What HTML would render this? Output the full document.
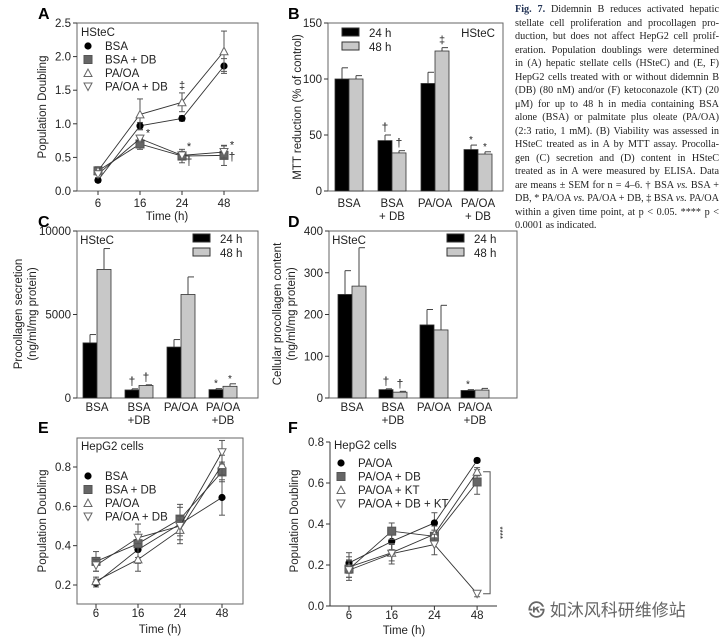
<!DOCTYPE html>
<html><head><meta charset="utf-8">
<style>
html,body{margin:0;padding:0;background:#fff;}
body{width:724px;height:639px;position:relative;overflow:hidden;font-family:"Liberation Sans",sans-serif;}
#cap{position:absolute;left:515px;top:3px;width:204px;font-family:"Liberation Serif",serif;font-size:10.2px;line-height:13.5px;color:#222;}
#cap div{text-align:justify;text-align-last:justify;white-space:nowrap;}
#cap div.last{text-align-last:left;}
#wm{position:absolute;left:528px;top:596px;font-family:"Liberation Sans","Noto Sans CJK SC",sans-serif;font-size:17px;color:#666;}
</style></head>
<body>
<svg id="fig" width="724" height="639" style="position:absolute;left:0;top:0" font-family="Liberation Sans, sans-serif"></svg>
<div id="cap">
<div><b style="color:#235">Fig. 7.</b> Didemnin B reduces activated hepatic</div>
<div>stellate cell proliferation and procollagen pro-</div>
<div>duction, but does not affect HepG2 cell prolif-</div>
<div>eration. Population doublings were determined</div>
<div>in (A) hepatic stellate cells (HSteC) and (E, F)</div>
<div>HepG2 cells treated with or without didemnin B</div>
<div>(DB) (80 nM) and/or (F) ketoconazole (KT) (20</div>
<div>μM) for up to 48 h in media containing BSA</div>
<div>alone (BSA) or palmitate plus oleate (PA/OA)</div>
<div>(2:3 ratio, 1 mM). (B) Viability was assessed in</div>
<div>HSteC treated as in A by MTT assay. Procolla-</div>
<div>gen (C) secretion and (D) content in HSteC</div>
<div>treated as in A were measured by ELISA. Data</div>
<div>are means ± SEM for n = 4–6. † BSA <i>vs.</i> BSA +</div>
<div>DB, * PA/OA <i>vs.</i> PA/OA + DB, ‡ BSA <i>vs.</i> PA/OA</div>
<div>within a given time point, at p &lt; 0.05. **** p &lt;</div>
<div class="last">0.0001 as indicated.</div>
</div>
<div id="wm">㉿ 如沐风科研维修站</div>
<script>
// ---------- data ----------
const timeLabels = ["6","16","24","48"];
const aSeriesNames = ["BSA","BSA + DB","PA/OA","PA/OA + DB"];
const aBSA = [0.16,0.97,1.08,1.86];
const aBSAerr = [0.03,0.05,0.04,0.11];
const aBSADB = [0.30,0.70,0.52,0.53];
const aBSADBerr = [0.06,0.08,0.10,0.15];
const aPAOA = [0.30,1.14,1.32,2.08];
const aPAOAerr = [0.05,0.23,0.14,0.30];
const aPAOADB = [0.25,0.78,0.53,0.58];
const aPAOADBerr = [0.05,0.05,0.06,0.09];
const aYTicks = [0,0.5,1.0,1.5,2.0,2.5];

const barGroups = ["BSA","BSA\n+ DB","PA/OA","PA/OA\n+ DB"];
const bMTT24 = [100,45,96,37];
const bMTT24err = [10,5,10,4];
const bMTT48 = [100,34,125,33];
const bMTT48err = [3,2,3,2];
const bYTicks = [0,50,100,150];

const cSec24 = [3300,480,3050,500];
const cSec24err = [500,70,450,60];
const cSec48 = [7700,750,6200,700];
const cSec48err = [1250,40,1050,150];
const cYTicks = [0,5000,10000];

const dCont24 = [248,20,175,18];
const dCont24err = [57,2,37,2];
const dCont48 = [268,14,163,19];
const dCont48err = [92,2,59,4];
const dYTicks = [0,100,200,300,400];

const eBSA = [0.21,0.38,0.51,0.645];
const eBSAerr = [0.02,0.04,0.10,0.09];
const eBSADB = [0.32,0.41,0.535,0.775];
const eBSADBerr = [0.05,0.10,0.06,0.05];
const ePAOA = [0.22,0.33,0.48,0.81];
const ePAOAerr = [0.02,0.06,0.05,0.05];
const ePAOADB = [0.30,0.44,0.50,0.875];
const ePAOADBerr = [0.03,0.03,0.05,0.06];
const eYTicks = [0.2,0.4,0.6,0.8];

const fSeriesNames = ["PA/OA","PA/OA + DB","PA/OA + KT","PA/OA + DB + KT"];
const fPAOA = [0.21,0.315,0.405,0.71];
const fPAOAerr = [0.05,0.04,0.05,0.01];
const fPAOADB = [0.18,0.365,0.34,0.605];
const fPAOADBerr = [0.04,0.04,0.03,0.06];
const fPAOAKT = [0.19,0.26,0.35,0.655];
const fPAOAKTerr = [0.05,0.04,0.04,0.02];
const fPAOADBKT = [0.175,0.255,0.30,0.06];
const fPAOADBKTerr = [0.05,0.05,0.05,0.015];
const fYTicks = [0,0.2,0.4,0.6,0.8];

// ---------- helpers ----------
const NS="http://www.w3.org/2000/svg";
const svg=document.getElementById('fig');
function el(tag,attrs,parent,txt){const e=document.createElementNS(NS,tag);for(const k in attrs)e.setAttribute(k,attrs[k]);if(txt!==undefined)e.textContent=txt;(parent||svg).appendChild(e);return e;}
function linScale(d0,d1,r0,r1){return v=>r0+(v-d0)*(r1-r0)/(d1-d0);}
function panelLetter(x,y,t){const e=el('text',{x:x,y:y,'font-size':16,'font-weight':'bold'},svg,t);

}
function frame(x0,x1,y0,y1,full,name){const g=el('g',{});


if(full) el('rect',{x:x0,y:y0,width:x1-x0,height:y1-y0,fill:'none',stroke:'#666','stroke-width':1},g);
else{el('line',{x1:x0,y1:y0,x2:x0,y2:y1,stroke:'#333'},g);el('line',{x1:x0,y1:y1,x2:x1,y2:y1,stroke:'#333'},g);}
return g;}
function yAxis(g,x0,ticks,ys,fmt){ticks.forEach(t=>{const y=ys(t);el('line',{x1:x0-4,y1:y,x2:x0,y2:y,stroke:'#333'},g);
const tx=el('text',{x:x0-6,y:y+4,'font-size':11.5,'text-anchor':'end',fill:'#222'},g,fmt(t));

});}
function yTitle(lines,x,cy,name){lines.forEach((l,i)=>{const t=el('text',{x:0,y:0,'font-size':11.5,'text-anchor':'middle',fill:'#222',transform:`translate(${x+i*14},${cy}) rotate(-90)`},svg,l);

});}
function marker(g,type,x,y){
 if(type==0) el('circle',{cx:x,cy:y,r:3.6,fill:'#000'},g);
 else if(type==1) el('rect',{x:x-4,y:y-4,width:8,height:8,fill:'#666',stroke:'#555'},g);
 else if(type==2) el('polygon',{points:`${x},${y-4} ${x-4},${y+3.5} ${x+4},${y+3.5}`,fill:'#fff',stroke:'#666'},g);
 else el('polygon',{points:`${x},${y+4} ${x-4},${y-3.5} ${x+4},${y-3.5}`,fill:'#fff',stroke:'#666'},g);}
function lineChart(name,xs,ys,series,errs,legendNames,legX,legY,title,titleGap){
 series.forEach((s,k)=>{const g=el('g',{});
  
  
  el('polyline',{points:s.map((v,i)=>xs(i)+','+ys(v)).join(' '),fill:'none',stroke:'#333','stroke-width':0.9},g);
  s.forEach((v,i)=>{const x=xs(i),e=errs[k][i];
   el('line',{x1:x,y1:ys(v-e),x2:x,y2:ys(v+e),stroke:'#555'},g);
   el('line',{x1:x-3,y1:ys(v-e),x2:x+3,y2:ys(v-e),stroke:'#555'},g);
   el('line',{x1:x-3,y1:ys(v+e),x2:x+3,y2:ys(v+e),stroke:'#555'},g);});
  s.forEach((v,i)=>{const m=el('g',{},g);
   
   
   marker(m,k,xs(i),ys(v));});});
 const tt=el('text',{x:legX-7,y:legY-titleGap,'font-size':11.5,fill:'#222'},svg,title);
 
 
 legendNames.forEach((n,k)=>{const g=el('g',{});
  
  
  marker(g,k,legX,legY+k*13.5-4);el('text',{x:legX+17,y:legY+k*13.5,'font-size':11.5,fill:'#222'},g,n);});}
function xCatLabels(g,xs,labels,y){labels.forEach((l,i)=>{l.split('\n').forEach((p,j)=>{const t=el('text',{x:xs(i),y:y+j*13,'font-size':11.5,'text-anchor':'middle',fill:'#222'},g,p);
 
 });});}
function xTicks(g,xs,n,y0){for(let i=0;i<n;i++)el('line',{x1:xs(i),y1:y0,x2:xs(i),y2:y0+4,stroke:'#333'},g);}
function barChart(name,cx,ys,v24,e24,v48,e48,y0){
 [[v24,e24,'#000',-1],[v48,e48,'#c8c8c8',0]].forEach(([vals,errs,col,off],k)=>{
  vals.forEach((v,i)=>{const g=el('g',{});
   
   
   const x=cx(i)+off*14,top=ys(v+errs[i]);
   el('line',{x1:x+7,y1:ys(v),x2:x+7,y2:top,stroke:'#444'},g);
   el('line',{x1:x+7,y1:top,x2:x+13,y2:top,stroke:'#444'},g);
   el('rect',{x:x,y:ys(v),width:14,height:y0-ys(v),fill:col,stroke:'#333','stroke-width':0.8},g);});});}
function barLegend(x,y){[['24 h','#000'],['48 h','#c8c8c8']].forEach(([n,c],k)=>{const g=el('g',{});
 
 
 el('rect',{x:x,y:y+k*14-9,width:17,height:8,fill:c,stroke:'#333'},g);
 el('text',{x:x+27,y:y+k*14,'font-size':11.5,fill:'#222'},g,n);});}
function txt(x,y,t,size,name){const e=el('text',{x:x,y:y,'font-size':size||11,'text-anchor':'middle',fill:'#222'},svg,t);
 
 return e;}

// ---------- Panel A ----------
panelLetter(38,19,'A');
{const ys=linScale(0,2.5,191,23),xs=i=>98+i*42;
 const g=frame(77,258,23,191,true,'panel-a');
 yAxis(g,77,aYTicks,ys,v=>v.toFixed(1));xTicks(g,xs,4,191);xCatLabels(g,xs,timeLabels,207);
 txt(167,220,'Time (h)',11.5,'x-axis-title');
 yTitle(['Population Doubling'],46,107,'y-axis-title');
 lineChart('panel-a',xs,ys,[aBSA,aBSADB,aPAOA,aPAOADB],[aBSAerr,aBSADBerr,aPAOAerr,aPAOADBerr],aSeriesNames,88,50,'HSteC',14);
 txt(xs(2),ys(aPAOA[2]+aPAOAerr[2])-4,'‡',11);
 txt(xs(1)+8,ys(aPAOADB[1])-2,'*',11);
 txt(xs(2)+7,ys(aPAOADB[2]+0.05)-2,'*',11);
 txt(xs(2)+7,ys(aBSADB[2]-0.1)+2,'†',12);
 txt(xs(3)+8,ys(aPAOADB[3]+0.05),'*',11);
 txt(xs(3)+8,ys(aBSADB[3]-0.05)+2,'†',12);}

// ---------- Panel B ----------
panelLetter(288,19,'B');
{const ys=linScale(0,150,191,23),cx=i=>349+i*43;
 const g=frame(328,503,23,191,true,'panel-b');
 yAxis(g,328,bYTicks,ys,v=>String(v));xCatLabels(g,cx,barGroups,207);
 yTitle(['MTT reduction (% of control)'],301,107,'y-axis-title');
 barChart('panel-b',cx,ys,bMTT24,bMTT24err,bMTT48,bMTT48err,191);
 barLegend(342,37);txt(478,37,'HSteC',11.5,'panel-title');
 txt(cx(1)-7,ys(bMTT24[1]+bMTT24err[1])-4,'†',12);
 txt(cx(1)+7,ys(bMTT48[1]+bMTT48err[1])-4,'†',12);
 txt(cx(2)+7,ys(bMTT48[2]+bMTT48err[2])-4,'‡',11);
 txt(cx(3)-7,ys(bMTT24[3]+bMTT24err[3])-2,'*',10);
 txt(cx(3)+7,ys(bMTT48[3]+bMTT48err[3])-2,'*',10);}

// ---------- Panel C ----------
panelLetter(38,227,'C');
{const ys=linScale(0,10000,398,231),cx=i=>97+i*42;
 const g=frame(77,258,231,398,true,'panel-c');
 yAxis(g,77,cYTicks,ys,v=>String(v));xCatLabels(g,cx,barGroups.map(s=>s.replace('+ DB','+DB')),411);
 yTitle(['Procollagen secretion','(ng/ml/mg protein)'],22,314,'y-axis-title');
 barChart('panel-c',cx,ys,cSec24,cSec24err,cSec48,cSec48err,398);
 barLegend(193,243);txt(97,244,'HSteC',11.5,'panel-title');
 txt(cx(1)-7,ys(cSec24[1]+cSec24err[1])-4,'†',12);
 txt(cx(1)+7,ys(cSec48[1]+cSec48err[1])-4,'†',12);
 txt(cx(3)-7,ys(cSec24[3]+cSec24err[3])-2,'*',10);
 txt(cx(3)+7,ys(cSec48[3]+cSec48err[3])-2,'*',10);}

// ---------- Panel D ----------
panelLetter(288,227,'D');
{const ys=linScale(0,400,398,231),cx=i=>352+i*41;
 const g=frame(329,517,231,398,true,'panel-d');
 yAxis(g,329,dYTicks,ys,v=>String(v));xCatLabels(g,cx,barGroups.map(s=>s.replace('+ DB','+DB')),411);
 yTitle(['Cellular procollagen content','(ng/ml/mg protein)'],281,314,'y-axis-title');
 barChart('panel-d',cx,ys,dCont24,dCont24err,dCont48,dCont48err,398);
 barLegend(447,243);txt(349,244,'HSteC',11.5,'panel-title');
 txt(cx(1)-7,ys(dCont24[1]+dCont24err[1])-4,'†',12);
 txt(cx(1)+7,ys(dCont48[1]+dCont48err[1])-4,'†',12);
 txt(cx(3)-7,ys(dCont24[3]+dCont24err[3])-2,'*',10);}

// ---------- Panel E ----------
panelLetter(38,433,'E');
{const ys=linScale(0.2,0.8,585,467),xs=i=>96+i*42;
 const g=frame(77,243,438,604,true,'panel-e');
 yAxis(g,77,eYTicks,ys,v=>v.toFixed(1));xTicks(g,xs,4,604);xCatLabels(g,xs,timeLabels,617);
 txt(160,633,'Time (h)',11.5,'x-axis-title');
 yTitle(['Population Doubling'],46,521,'y-axis-title');
 lineChart('panel-e',xs,ys,[eBSA,eBSADB,ePAOA,ePAOADB],[eBSAerr,eBSADBerr,ePAOAerr,ePAOADBerr],aSeriesNames,88,480,'HepG2 cells',30);}

// ---------- Panel F ----------
panelLetter(288,433,'F');
{const ys=linScale(0,0.8,606,442),xs=i=>349+i*42.7;
 const g=frame(330,497,442,606,false,'panel-f');
 yAxis(g,330,fYTicks,ys,v=>v.toFixed(1));xTicks(g,xs,4,606);xCatLabels(g,xs,timeLabels,619);
 txt(404,634,'Time (h)',11.5,'x-axis-title');
 yTitle(['Population Doubling'],298,521,'y-axis-title');
 lineChart('panel-f',xs,ys,[fPAOA,fPAOADB,fPAOAKT,fPAOADBKT],[fPAOAerr,fPAOADBerr,fPAOAKTerr,fPAOADBKTerr],fSeriesNames,341,467,'HepG2 cells',18);
 const b=el('path',{d:`M${xs(3)+6},${ys(fPAOAKT[3])} H${xs(3)+13} V${ys(fPAOADBKT[3])} H${xs(3)+6}`,fill:'none',stroke:'#555'});
 
 
 const st=el('text',{x:0,y:0,'font-size':8,'text-anchor':'middle',fill:'#222',transform:`translate(${xs(3)+20},${(ys(fPAOAKT[3])+ys(fPAOADBKT[3]))/2}) rotate(90)`},svg,'****');
 
 }
</script>
</body></html>
